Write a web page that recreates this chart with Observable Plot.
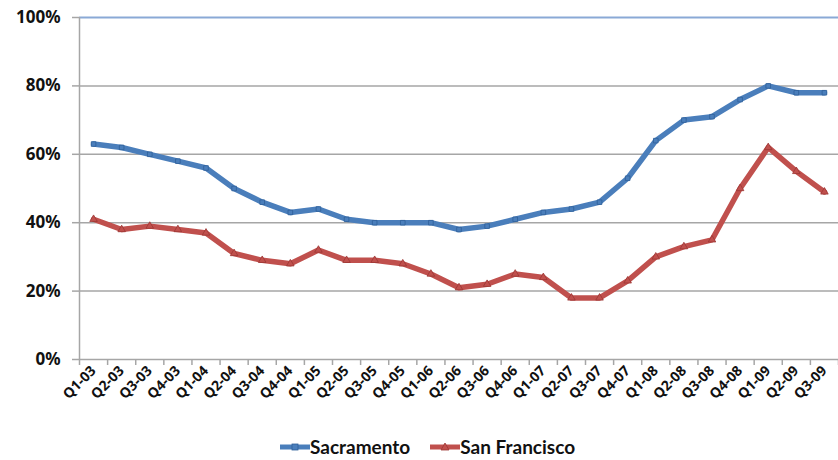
<!DOCTYPE html>
<html>
<head>
<meta charset="utf-8">
<script src="https://cdn.jsdelivr.net/npm/d3@7"></script>
<script src="https://cdn.jsdelivr.net/npm/@observablehq/plot@0.6"></script>
<style>
  html, body { margin: 0; padding: 0; background: #fff; }
  #wrap { position: relative; width: 838px; height: 460px; font-family: Lato, "Open Sans", sans-serif; }
  #chart svg text { font-weight: bold; }
  #legend { position: absolute; left: 280px; top: 435px; display: flex; align-items: center; font-size: 19px; font-weight: bold; color: #111; }
  #legend .item { display: flex; align-items: center; margin-right: 20px; }
  #legend svg { display: block; }
</style>
</head>
<body>
<div id="wrap">
  <div id="chart"></div>
  <div id="legend"></div>
</div>
<script>
const quarters = ["Q1-03","Q2-03","Q3-03","Q4-03","Q1-04","Q2-04","Q3-04","Q4-04","Q1-05","Q2-05","Q3-05","Q4-05","Q1-06","Q2-06","Q3-06","Q4-06","Q1-07","Q2-07","Q3-07","Q4-07","Q1-08","Q2-08","Q3-08","Q4-08","Q1-09","Q2-09","Q3-09"];
const sacramento = [63,62,60,58,56,50,46,43,44,41,40,40,40,38,39,41,43,44,46,53,64,70,71,76,80,78,78];
const sanFrancisco = [41,38,39,38,37,31,29,28,32,29,29,28,25,21,22,25,24,18,18,23,30,33,35,50,62,55,49];
const yTicks = [0,20,40,60,80,100];
const seriesNames = ["Sacramento","San Francisco"];
const seriesColors = ["#4a7ebb","#c0504d"];

const rows = [];
quarters.forEach((q, i) => {
  rows.push({i, q, s: seriesNames[0], v: sacramento[i]});
  rows.push({i, q, s: seriesNames[1], v: sanFrancisco[i]});
});

const grid = "#a6a6a6";
const chart = Plot.plot({
  width: 838,
  height: 425,
  marginLeft: 79,
  marginRight: 0,
  marginTop: 17,
  marginBottom: 66,
  x: {domain: [0, quarters.length]},
  y: {domain: [0, 100]},
  color: {domain: seriesNames, range: seriesColors},
  marks: [
    Plot.ruleY(yTicks.filter(t => t > 0 && t < 100), {stroke: grid, strokeWidth: 1.5}),
    Plot.ruleY([100], {stroke: "#8aa9d6", strokeWidth: 1.8}),
    Plot.ruleY([0], {stroke: grid, strokeWidth: 1.5}),
    Plot.ruleX([0], {stroke: grid, strokeWidth: 1.5}),
    Plot.axisY({ticks: yTicks, tickFormat: d => d + "%", tickSize: 7, tickPadding: 12, fontSize: 17, stroke: grid, strokeWidth: 1.5, fill: "#111", label: null}),
    Plot.axisX({ticks: d3.range(quarters.length + 1), tickFormat: () => "", tickSize: 6, stroke: grid, strokeWidth: 1.5, label: null}),
    Plot.axisX({ticks: quarters.map((q, i) => i + 0.5), tickFormat: d => quarters[Math.floor(d)], tickSize: 0, tickPadding: 9, tickRotate: -45, fontSize: 14, fill: "#111", label: null}),
    Plot.line(rows, {x: d => d.i + 0.5, y: "v", z: "s", stroke: "s", strokeWidth: 5.5, strokeLinejoin: "round"}),
    Plot.dot(rows.filter(d => d.s === seriesNames[0]), {x: d => d.i + 0.5, y: "v", symbol: "square", r: 2.6, fill: "#4a7ebb", stroke: "#2f5f99", strokeWidth: 0.8}),
    Plot.dot(rows.filter(d => d.s === seriesNames[1]), {x: d => d.i + 0.5, y: "v", symbol: "triangle", r: 2.8, fill: "#c0504d", stroke: "#9c3633", strokeWidth: 0.8})
  ]
});
document.getElementById("chart").appendChild(chart);

const legend = document.getElementById("legend");
seriesNames.forEach((name, k) => {
  const item = document.createElement("div");
  item.className = "item";
  const marker = k === 0
    ? `<rect x="12" y="5" width="6" height="6" fill="${seriesColors[k]}" stroke="#2f5f99" stroke-width="0.8"/>`
    : `<path d="M15,4 L19,11 L11,11 Z" fill="${seriesColors[k]}" stroke="#9c3633" stroke-width="0.8"/>`;
  item.innerHTML = `<svg width="30" height="16"><line x1="0" y1="8" x2="30" y2="8" stroke="${seriesColors[k]}" stroke-width="5"/>${marker}</svg><span>${name}</span>`;
  legend.appendChild(item);
});
</script>
</body>
</html>
